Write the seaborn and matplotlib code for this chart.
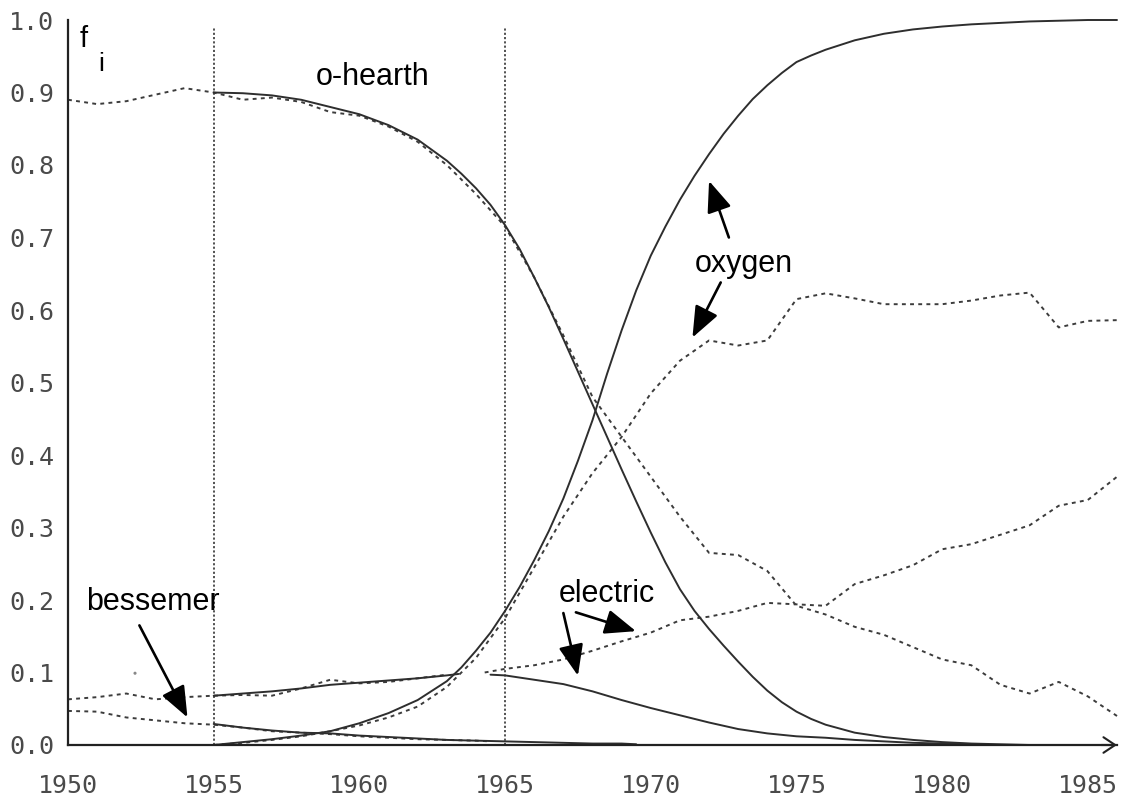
import numpy as np
import pandas as pd
import matplotlib
matplotlib.use("Agg")
import matplotlib.pyplot as plt
import seaborn as sns

# observed market shares (dotted lines)
obs_years = list(range(1950, 1987))
ohearth_obs = [0.890, 0.884, 0.888, 0.897, 0.906, 0.900, 0.890, 0.893, 0.887, 0.873,
               0.868, 0.853, 0.832, 0.800, 0.760, 0.715, 0.645, 0.565, 0.480, 0.425,
               0.370, 0.315, 0.265, 0.262, 0.240, 0.192, 0.180, 0.163, 0.152, 0.135,
               0.118, 0.110, 0.083, 0.071, 0.087, 0.067, 0.040]

oxygen_obs_years = list(range(1955, 1987))
oxygen_obs = [0.000, 0.003, 0.007, 0.012, 0.019, 0.027, 0.038, 0.053, 0.080, 0.120,
              0.175, 0.245, 0.315, 0.375, 0.425, 0.485, 0.530, 0.558, 0.551, 0.558,
              0.615, 0.623, 0.616, 0.608, 0.608, 0.608, 0.613, 0.620, 0.624, 0.576,
              0.585, 0.586]

electric_obs_years_a = list(range(1950, 1964))
electric_obs_a = [0.063, 0.066, 0.071, 0.063, 0.066, 0.068, 0.069, 0.068, 0.078, 0.090,
                  0.085, 0.087, 0.092, 0.097]
electric_obs_years_b = [1964.3] + list(range(1965, 1987))
electric_obs_b = [0.100, 0.105, 0.110, 0.118, 0.130, 0.143, 0.155, 0.172, 0.177, 0.185,
                  0.196, 0.194, 0.192, 0.222, 0.234, 0.248, 0.270, 0.277, 0.290, 0.303,
                  0.330, 0.338, 0.370]

bessemer_obs_years = list(range(1950, 1965)) + [1964.5]
bessemer_obs = [0.047, 0.046, 0.038, 0.034, 0.030, 0.028, 0.024, 0.019, 0.017, 0.015,
                0.012, 0.010, 0.008, 0.007, 0.006, 0.005]

stray_year = [1952.3]
stray_share = [0.099]

# fitted substitution curves (solid lines), read every half year on the steep part
ohearth_fit_years = (list(range(1955, 1963))
                     + [1963 + 0.5 * i for i in range(26)]
                     + list(range(1976, 1984)))
ohearth_fit = [0.900, 0.899, 0.896, 0.890, 0.880, 0.870, 0.855, 0.835,
               0.806, 0.788, 0.768, 0.745, 0.717, 0.684, 0.645, 0.604, 0.560, 0.515,
               0.470, 0.425, 0.380, 0.336, 0.293, 0.252, 0.215, 0.185, 0.160, 0.137,
               0.115, 0.094, 0.075, 0.059, 0.046, 0.036,
               0.028, 0.017, 0.011, 0.007, 0.004, 0.002, 0.001, 0.000]

oxygen_fit_years = (list(range(1955, 1963))
                    + [1963 + 0.5 * i for i in range(26)]
                    + list(range(1976, 1987)))
oxygen_fit = [0.000, 0.004, 0.008, 0.013, 0.019, 0.030, 0.044, 0.062,
              0.088, 0.107, 0.130, 0.155, 0.185, 0.218, 0.255, 0.295, 0.340, 0.392,
              0.448, 0.512, 0.572, 0.627, 0.675, 0.715, 0.752, 0.785, 0.815, 0.843,
              0.868, 0.891, 0.910, 0.927, 0.942, 0.951,
              0.959, 0.972, 0.981, 0.987, 0.991, 0.994, 0.996, 0.998, 0.999, 1.000,
              1.000]

electric_fit_years_a = list(range(1955, 1964)) + [1963.4]
electric_fit_a = [0.068, 0.071, 0.074, 0.078, 0.083, 0.086, 0.089, 0.092, 0.096, 0.098]
electric_fit_years_b = [1964.5] + list(range(1965, 1981)) + [1981.5]
electric_fit_b = [0.097, 0.096, 0.090, 0.084, 0.074, 0.062, 0.051, 0.041, 0.031, 0.022,
                  0.016, 0.012, 0.010, 0.007, 0.005, 0.003, 0.002, 0.001]

bessemer_fit_years = list(range(1955, 1970)) + [1969.5]
bessemer_fit = [0.029, 0.024, 0.020, 0.017, 0.016, 0.013, 0.011, 0.009, 0.007, 0.006,
                0.005, 0.004, 0.003, 0.002, 0.002, 0.001]

guide_years = [1955, 1965]
x_ticks = [1950, 1955, 1960, 1965, 1970, 1975, 1980, 1985]
y_ticks = [0.0, 0.1, 0.2, 0.3, 0.4, 0.5, 0.6, 0.7, 0.8, 0.9, 1.0]


def segment(name, kind, years, shares):
    return pd.DataFrame({"year": years, "share": shares, "series": name, "kind": kind})


obs_df = pd.concat([
    segment("o-hearth", "data", obs_years, ohearth_obs),
    segment("oxygen", "data", oxygen_obs_years, oxygen_obs),
    segment("electric a", "data", electric_obs_years_a, electric_obs_a),
    segment("electric b", "data", electric_obs_years_b, electric_obs_b),
    segment("bessemer", "data", bessemer_obs_years, bessemer_obs),
], ignore_index=True)

fit_df = pd.concat([
    segment("o-hearth", "fit", ohearth_fit_years, ohearth_fit),
    segment("oxygen", "fit", oxygen_fit_years, oxygen_fit),
    segment("electric a", "fit", electric_fit_years_a, electric_fit_a),
    segment("electric b", "fit", electric_fit_years_b, electric_fit_b),
    segment("bessemer", "fit", bessemer_fit_years, bessemer_fit),
], ignore_index=True)

sns.set_style("white")
plt.rcParams["font.family"] = ["Liberation Sans", "DejaVu Sans"]

fig = plt.figure(figsize=(11.32, 8.02), dpi=100)
ax = fig.add_axes([68 / 1132, 1 - 745 / 802, (1117 - 68) / 1132, (745 - 20) / 802])

# dotted guides at the fitting window
ax.vlines(guide_years, 0, 0.99, colors="#222222", linewidth=1.1,
          linestyles=(0, (1.4, 1.4)), zorder=1)

sns.lineplot(data=obs_df, x="year", y="share", units="series", estimator=None,
             style="kind", dashes={"data": (2, 2.2)}, color="#3c3c3c",
             linewidth=1.4, sort=False, legend=False, ax=ax)
sns.lineplot(data=fit_df, x="year", y="share", units="series", estimator=None,
             style="kind", dashes={"fit": ""}, color="#2e2e2e",
             linewidth=1.4, sort=False, legend=False, ax=ax)
sns.scatterplot(x=stray_year, y=stray_share, s=5, color="#888888",
                edgecolor="none", legend=False, ax=ax)
for line in ax.lines:
    line.set_clip_on(False)

ax.set_xlim(1950, 1986.0)
ax.set_ylim(0, 1.0)
ax.set_xlabel("")
ax.set_ylabel("")
ax.set_xticks(x_ticks)
ax.set_xticklabels([str(t) for t in x_ticks], fontfamily="DejaVu Sans Mono",
                   fontsize=18, color="#4a4a4a")
ax.set_yticks(y_ticks)
ax.set_yticklabels([f"{t:.1f}" for t in y_ticks], fontfamily="DejaVu Sans Mono",
                   fontsize=18, color="#4a4a4a")
ax.tick_params(axis="y", length=5, width=1.3, pad=5, color="#222222")
ax.tick_params(axis="x", length=11, width=1.3, pad=10, color="#222222")

for side in ["top", "right"]:
    ax.spines[side].set_visible(False)
for side in ["left", "bottom"]:
    ax.spines[side].set_linewidth(1.6)
    ax.spines[side].set_color("#222222")

# open arrow head at the end of the time axis
ax.annotate("", xy=(1.0, 0), xycoords="axes fraction", xytext=(0.985, 0),
            arrowprops=dict(arrowstyle="->,head_length=0.6,head_width=0.4",
                            mutation_scale=14, lw=1.5, color="#222222",
                            shrinkA=0, shrinkB=0), annotation_clip=False)

# labels
ax.text(1950.4, 0.9625, "f", fontsize=21, ha="left", va="baseline", color="black")
ax.text(1951.03, 0.930, "i", fontsize=19, ha="left", va="baseline", color="black")
ax.text(1960.46, 0.911, "o-hearth", fontsize=22, ha="center", va="baseline", color="black")
ax.text(1973.2, 0.652, "oxygen", fontsize=22, ha="center", va="baseline", color="black")
ax.text(1952.93, 0.1865, "bessemer", fontsize=22, ha="center", va="baseline", color="black")
ax.text(1968.49, 0.197, "electric", fontsize=22, ha="center", va="baseline", color="black")

arrow_kw = dict(arrowstyle="-|>,head_length=1.0,head_width=0.4", mutation_scale=19,
                lw=1.9, color="black", shrinkA=0, shrinkB=0)
ax.annotate("", xy=(1954.1, 0.038), xytext=(1952.45, 0.165), arrowprops=arrow_kw)
ax.annotate("", xy=(1972.0, 0.778), xytext=(1972.68, 0.700), arrowprops=arrow_kw)
ax.annotate("", xy=(1971.43, 0.562), xytext=(1972.4, 0.638), arrowprops=arrow_kw)
ax.annotate("", xy=(1967.5, 0.0956), xytext=(1967.0, 0.182), arrowprops=arrow_kw)
ax.annotate("", xy=(1969.49, 0.157), xytext=(1967.43, 0.183), arrowprops=arrow_kw)

fig.savefig("out.png", dpi=100, facecolor="white")
